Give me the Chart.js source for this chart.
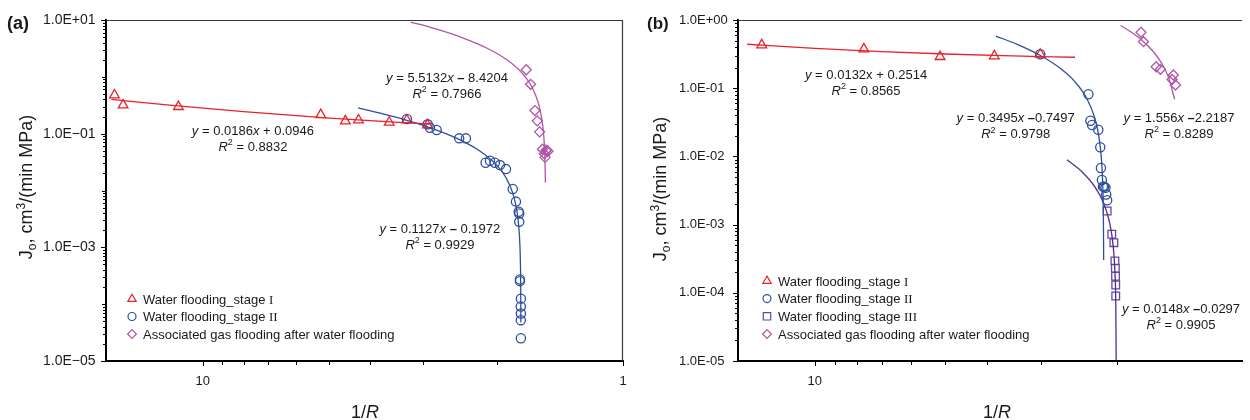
<!DOCTYPE html>
<html><head><meta charset="utf-8">
<script src="https://cdn.jsdelivr.net/npm/chart.js@4.4.1/dist/chart.umd.min.js"></script>
<style>
html,body{margin:0;padding:0;background:#fff;overflow:hidden;}
#wrap{position:relative;width:1250px;height:420px;}
canvas{position:absolute;top:0;}
#ca{left:0;}
#cb{left:625px;}
</style></head><body>
<div id="wrap"><canvas id="ca" width="640" height="420"></canvas><canvas id="cb" width="625" height="420"></canvas></div>
<script>
// ---------- Panel (a) data ----------
const aStage1X = [16.23, 15.48, 11.43, 5.24, 4.58, 4.26, 3.60, 3.27, 2.92];
const aStage1Y = [0.478, 0.319, 0.298, 0.215, 0.167, 0.173, 0.158, 0.173, 0.142];
const aStage2X = [3.268, 2.917, 2.880, 2.777, 2.454, 2.365, 2.123, 2.073, 2.018, 1.963, 1.899, 1.830, 1.798, 1.771, 1.766, 1.766, 1.759, 1.759, 1.750, 1.751, 1.750, 1.751, 1.750];
const aStage2Y = [0.181, 0.146, 0.127, 0.1157, 0.0827, 0.0827, 0.0308, 0.0333, 0.0308, 0.0280, 0.0238, 0.0106, 0.00638, 0.00422, 0.00395, 0.00281, 0.000272, 0.000254, 0.000125, 9.12e-5, 6.86e-5, 5.23e-5, 2.52e-5];
const aGasX = [1.699, 1.659, 1.620, 1.600, 1.579, 1.555, 1.525, 1.509, 1.533, 1.539, 1.519];
const aGasY = [1.334, 0.738, 0.255, 0.168, 0.1076, 0.0531, 0.0508, 0.0490, 0.0383, 0.0443, 0.0514];
// fitted curves (a)
const aFit1X = [16.5, 12, 8, 5, 3.5, 2.87];
const aFit1Y = [0.4015, 0.3178, 0.2434, 0.1876, 0.1597, 0.1480];
const aFit2X = [4.27, 3.8, 3.3, 2.9, 2.5, 2.2, 2.0, 1.9, 1.83, 1.79, 1.77, 1.76, 1.755, 1.752, 1.7505, 1.7502];
const aFit2Y = [0.2840, 0.2311, 0.1747, 0.1296, 0.0846, 0.0507, 0.0282, 0.0169, 0.00904, 0.00453, 0.00228, 0.00115, 0.000589, 0.000251, 8.1e-5, 4.75e-5];
const aFit3X = [3.2, 2.8, 2.4, 2.1, 1.9, 1.75, 1.65, 1.59, 1.56, 1.545, 1.535, 1.5298];
const aFit3Y = [9.22, 7.017, 4.811, 3.157, 2.054, 1.227, 0.677, 0.3456, 0.1802, 0.0975, 0.0424, 0.01375];

// ---------- Panel (b) data ----------
const bStage1X = [13.27, 7.70, 5.13, 3.843, 3.008];
const bStage1Y = [0.430, 0.3756, 0.2897, 0.2966, 0.314];
const bStage2X = [3.008, 2.327, 2.303, 2.282, 2.208, 2.185, 2.177, 2.166, 2.154, 2.140, 2.125, 2.117, 2.106];
const bStage2Y = [0.315, 0.0817, 0.0334, 0.0289, 0.0246, 0.0136, 0.00676, 0.00451, 0.00360, 0.00360, 0.00348, 0.00276, 0.00227];
const bStage3X = [2.106, 2.055, 2.032, 2.021, 2.016, 2.014, 2.012, 2.012];
const bStage3Y = [0.001583, 0.000723, 0.000543, 0.000294, 0.000229, 0.000175, 0.000130, 8.98e-5];
const bGasX = [1.758, 1.735, 1.622, 1.586, 1.480, 1.490, 1.463];
const bGasY = [0.660, 0.481, 0.2066, 0.1893, 0.1562, 0.1341, 0.1114];
// fitted curves (b)
const bFit1X = [14.34, 10, 7, 5, 3.5, 2.5];
const bFit1Y = [0.4407, 0.3834, 0.3438, 0.3174, 0.2976, 0.2844];
const bFit2X = [3.81, 3.4, 3.0, 2.7, 2.5, 2.35, 2.25, 2.2, 2.17, 2.155, 2.149, 2.1465, 2.1459];
const bFit2Y = [0.5819, 0.4386, 0.2988, 0.1940, 0.1241, 0.0716, 0.0367, 0.0192, 0.00872, 0.00347, 0.00138, 0.000502, 0.000302];
const bFit3X = [2.608, 2.4, 2.25, 2.15, 2.08, 2.04, 2.02, 2.012, 2.0077, 2.00745];
const bFit3Y = [0.008898, 0.00582, 0.0036, 0.00212, 0.001084, 0.000492, 0.000196, 7.76e-5, 1.4e-5, 1.03e-5];
const bFit4X = [1.96, 1.85, 1.75, 1.65, 1.58, 1.52, 1.47];
const bFit4Y = [0.8311, 0.6599, 0.5043, 0.3487, 0.2398, 0.1465, 0.0686];

// tick label exponents
const aYLabelExp = [1, -1, -3, -5];
const bYLabelExp = [0, -1, -2, -3, -4, -5];
const aXLabels = [1, 10];
const bXLabels = [10];

// ---------- styles ----------
const FONT = '"Liberation Sans", Arial, Helvetica, sans-serif';
const SERIF = '"Liberation Serif", "Times New Roman", serif';
const TXT = '#1a1a1a';
const RED = '#e8212b', BLUE = '#2d4e9f', MAG = '#b054a6', PURP = '#6a44a3', PURPL = '#4f2f8e';

function pts(xs, ys) { return xs.map((x, i) => ({x: x, y: ys[i]})); }
function fitDS(xs, ys, color) {
  return {data: pts(xs, ys), showLine: true, borderColor: color, borderWidth: 1.3,
    pointRadius: 0, pointHoverRadius: 0, cubicInterpolationMode: 'monotone', fill: false};
}
function markDS(xs, ys, color, style, r) {
  return {data: pts(xs, ys), showLine: false, pointStyle: style, pointRadius: r, pointHoverRadius: r,
    pointBorderColor: color, pointBackgroundColor: 'rgba(0,0,0,0)', pointBorderWidth: 1.3,
    borderColor: color, backgroundColor: 'rgba(0,0,0,0)'};
}

function segFont(s, size) {
  if (s === 'i') return 'italic ' + size + 'px ' + FONT;
  if (s === 'b') return 'bold ' + size + 'px ' + FONT;
  if (s === 's' || s === 'sub') return Math.round(size * 0.66) + 'px ' + FONT;
  if (s === 'r') return size + 'px ' + SERIF;
  return size + 'px ' + FONT;
}
function richWidth(ctx, segs, size) {
  let w = 0;
  for (const sg of segs) { ctx.font = segFont(sg[1] || '', size); w += ctx.measureText(sg[0]).width; }
  return w;
}
function drawRich(ctx, segs, x, y, size, align) {
  const w = richWidth(ctx, segs, size);
  let cx = align === 'center' ? x - w / 2 : x;
  ctx.textAlign = 'left'; ctx.textBaseline = 'alphabetic';
  for (const sg of segs) {
    const s = sg[1] || '';
    ctx.font = segFont(s, size);
    let dy = 0;
    if (s === 's') dy = -size * 0.4;
    if (s === 'sub') dy = size * 0.22;
    ctx.fillText(sg[0], cx, y + dy);
    cx += ctx.measureText(sg[0]).width;
  }
}
function drawMarker(ctx, style, x, y, r, color) {
  ctx.save(); ctx.strokeStyle = color; ctx.lineWidth = 1.2; ctx.beginPath();
  if (style === 'triangle') {
    ctx.moveTo(x, y - r); ctx.lineTo(x + r * 0.866, y + r / 2); ctx.lineTo(x - r * 0.866, y + r / 2); ctx.closePath();
  } else if (style === 'circle') {
    ctx.arc(x, y, r, 0, Math.PI * 2);
  } else if (style === 'rect') {
    ctx.rect(x - r, y - r, 2 * r, 2 * r);
  } else {
    ctx.moveTo(x, y - r); ctx.lineTo(x + r, y); ctx.lineTo(x, y + r); ctx.lineTo(x - r, y); ctx.closePath();
  }
  ctx.stroke(); ctx.restore();
}

const decor = {
  id: 'decor',
  afterDraw(chart) {
    const o = chart.options.plugins.decor;
    const ctx = chart.ctx, ca = chart.chartArea, xs = chart.scales.x, ys = chart.scales.y;
    ctx.save();
    // frame top / right
    ctx.strokeStyle = '#3a3a3a'; ctx.lineWidth = 1.2;
    ctx.beginPath(); ctx.moveTo(ca.left, ca.top + 0.5); ctx.lineTo(ca.right, ca.top + 0.5); ctx.stroke();
    if (o.rightBorder) { ctx.beginPath(); ctx.moveTo(ca.right - 0.5, ca.top); ctx.lineTo(ca.right - 0.5, ca.bottom); ctx.stroke(); }
    // ticks
    ctx.strokeStyle = '#000'; ctx.lineWidth = 1;
    for (let e = o.yMinExp; e <= o.yMaxExp; e++) {
      for (let s = 1; s <= 9; s++) {
        if (e === o.yMaxExp && s > 1) break;
        const v = s * Math.pow(10, e);
        const py = Math.round(ys.getPixelForValue(v)) + 0.5;
        const len = s === 1 ? (o.yLabelExp.includes(e) ? 5 : 4) : 3;
        ctx.beginPath(); ctx.moveTo(ca.left - len, py); ctx.lineTo(ca.left, py); ctx.stroke();
      }
    }
    for (let s = 1; s <= 10; s++) {
      const px = Math.round(xs.getPixelForValue(s)) + 0.5;
      if (px < ca.left - 1 || px > ca.right + 1) continue;
      const len = (s === 1 || s === 10) ? 5 : 4;
      ctx.beginPath(); ctx.moveTo(px, ca.bottom); ctx.lineTo(px, ca.bottom + len); ctx.stroke();
    }
    // annotations
    ctx.fillStyle = TXT;
    for (const an of o.notes) {
      const px = xs.getPixelForValue(an.x), py = ys.getPixelForValue(an.y);
      an.lines.forEach((ln, i) => drawRich(ctx, ln, px, py + 4.5 + i * 16, 13, 'center'));
    }
    // legend
    const lg = o.legend;
    lg.items.forEach((it, i) => {
      const cy = ca.bottom - lg.bottomGap - (lg.items.length - 1 - i) * lg.rowH;
      drawMarker(ctx, it.style, ca.left + lg.markerDx, cy, it.r, it.color);
      ctx.fillStyle = TXT;
      drawRich(ctx, it.text, ca.left + lg.textDx, cy + 4.6, 13, 'left');
    });
    // axis titles
    ctx.fillStyle = TXT;
    drawRich(ctx, [['1/'], ['R', 'i']], o.xTitleX, 418, 18, 'center');
    ctx.save();
    ctx.translate(o.yTitleX, o.yTitleY); ctx.rotate(-Math.PI / 2);
    drawRich(ctx, [['J'], ['o', 'sub'], [', cm'], ['3', 's'], ['/(min MPa)']], 0, 0, 18, 'center');
    ctx.restore();
    // panel label
    ctx.font = 'bold ' + o.panelSize + 'px ' + FONT; ctx.textAlign = 'left'; ctx.textBaseline = 'alphabetic';
    ctx.fillText(o.panel, o.panelX, 29);
    ctx.restore();
  }
};

function expLabel(e, minus) {
  return '1.0E' + (e >= 0 ? '+' : minus) + String(Math.abs(e)).padStart(2, '0');
}
function isDecade(v) { const l = Math.log10(v); const e = Math.round(l); return Math.abs(l - e) < 1e-6 ? e : null; }

function makeChart(id, p) {
  return new Chart(document.getElementById(id), {
    type: 'scatter',
    data: {datasets: p.datasets},
    options: {
      responsive: false, animation: false, events: [], devicePixelRatio: 1,
      layout: {padding: p.padding},
      plugins: {legend: {display: false}, tooltip: {enabled: false}, decor: p.decor},
      scales: {
        x: {
          type: 'logarithmic', reverse: true, min: p.xMin, max: p.xMax,
          afterFit(s) { s.height = 59; },
          grid: {display: true, drawOnChartArea: false, drawTicks: true, tickLength: 5, color: 'rgba(0,0,0,0)', tickColor: 'rgba(0,0,0,0)'},
          border: {display: true, color: '#000', width: 2},
          ticks: {autoSkip: false, maxRotation: 0, padding: 8, color: TXT, font: {family: FONT, size: 13},
            callback(v) { const e = isDecade(v); return (e !== null && p.xLabels.includes(Math.pow(10, e))) ? String(Math.round(Math.pow(10, e))) : ''; }}
        },
        y: {
          type: 'logarithmic', min: p.yMin, max: p.yMax,
          afterFit(s) { s.width = p.yWidth; },
          grid: {display: true, drawOnChartArea: false, drawTicks: true, tickLength: 5, color: 'rgba(0,0,0,0)', tickColor: 'rgba(0,0,0,0)'},
          border: {display: true, color: '#000', width: 2},
          ticks: {autoSkip: false, crossAlign: 'far', padding: 6, color: TXT, font: {family: FONT, size: p.yFont},
            callback(v) { const e = isDecade(v); return (e !== null && p.yLabelExp.includes(e)) ? expLabel(e, p.minus) : ''; }}
        }
      }
    },
    plugins: [decor]
  });
}

const eqMinus = ['\u2013', 'b'];

makeChart('ca', {
  padding: {left: 43, right: 17, top: 20, bottom: 0}, yWidth: 63,
  xMin: 1, xMax: 17, yMin: 1e-5, yMax: 10, yFont: 14, minus: '\u2212',
  yLabelExp: aYLabelExp, xLabels: aXLabels,
  datasets: [
    fitDS(aFit1X, aFit1Y, RED), fitDS(aFit2X, aFit2Y, BLUE), fitDS(aFit3X, aFit3Y, MAG),
    markDS(aStage1X, aStage1Y, RED, 'triangle', 5.6),
    markDS(aStage2X, aStage2Y, BLUE, 'circle', 4.6),
    markDS(aGasX, aGasY, MAG, 'rectRot', 5)
  ],
  decor: {
    rightBorder: true, yMinExp: -5, yMaxExp: 1, yLabelExp: aYLabelExp,
    xTitleX: 365, yTitleX: 32, yTitleY: 187, panel: '(a)', panelX: 7, panelSize: 18,
    notes: [
      {x: 7.60, y: 0.1157, lines: [[['y', 'i'], [' = 0.0186'], ['x', 'i'], [' + 0.0946']], [['R', 'i'], ['2', 's'], [' = 0.8832']]]},
      {x: 2.624, y: 0.992, lines: [[['y', 'i'], [' = 5.5132'], ['x', 'i'], [' '], eqMinus, [' 8.4204']], [['R', 'i'], ['2', 's'], [' = 0.7966']]]},
      {x: 2.728, y: 0.00218, lines: [[['y', 'i'], [' = 0.1127'], ['x', 'i'], [' '], eqMinus, [' 0.1972']], [['R', 'i'], ['2', 's'], [' = 0.9929']]]}
    ],
    legend: {markerDx: 26, textDx: 37, rowH: 17.5, bottomGap: 27, items: [
      {style: 'triangle', r: 4.8, color: RED, text: [['Water flooding_stage '], ['I', 'r']]},
      {style: 'circle', r: 4, color: BLUE, text: [['Water flooding_stage '], ['II', 'r']]},
      {style: 'diamond', r: 4.4, color: MAG, text: [['Associated gas flooding after water flooding']]}
    ]}
  }
});

makeChart('cb', {
  padding: {left: 54, right: 0, top: 20, bottom: 0}, yWidth: 59,
  xMin: 1.0266, xMax: 15.06, yMin: 1e-5, yMax: 1, yFont: 13, minus: '-',
  yLabelExp: bYLabelExp, xLabels: bXLabels,
  datasets: [
    fitDS(bFit1X, bFit1Y, RED), fitDS(bFit2X, bFit2Y, BLUE), fitDS(bFit3X, bFit3Y, PURPL), fitDS(bFit4X, bFit4Y, MAG),
    markDS(bStage1X, bStage1Y, RED, 'triangle', 5.6),
    markDS(bStage2X, bStage2Y, BLUE, 'circle', 4.6),
    markDS(bStage3X, bStage3Y, PURP, 'rect', 5.4),
    markDS(bGasX, bGasY, MAG, 'rectRot', 5)
  ],
  decor: {
    rightBorder: false, yMinExp: -5, yMaxExp: 0, yLabelExp: bYLabelExp,
    xTitleX: 372, yTitleX: 41, yTitleY: 189, panel: '(b)', panelX: 22, panelSize: 17,
    notes: [
      {x: 7.61, y: 0.1615, lines: [[['y', 'i'], [' = 0.0132x + 0.2514']], [['R', 'i'], ['2', 's'], [' = 0.8565']]]},
      {x: 3.429, y: 0.0366, lines: [[['y', 'i'], [' = 0.3495'], ['x', 'i'], [' '], eqMinus, ['0.7497']], [['R', 'i'], ['2', 's'], [' = 0.9798']]]},
      {x: 1.436, y: 0.0378, lines: [[['y', 'i'], [' = 1.556'], ['x', 'i'], [' '], eqMinus, ['2.2187']], [['R', 'i'], ['2', 's'], [' = 0.8289']]]},
      {x: 1.421, y: 5.98e-5, lines: [[['y', 'i'], [' = 0.0148'], ['x', 'i'], [' '], eqMinus, ['0.0297']], [['R', 'i'], ['2', 's'], [' = 0.9905']]]}
    ],
    legend: {markerDx: 29, textDx: 40, rowH: 17.7, bottomGap: 27, items: [
      {style: 'triangle', r: 4.8, color: RED, text: [['Water flooding_stage '], ['I', 'r']]},
      {style: 'circle', r: 4, color: BLUE, text: [['Water flooding_stage '], ['II', 'r']]},
      {style: 'rect', r: 3.7, color: PURP, text: [['Water flooding_stage '], ['III', 'r']]},
      {style: 'diamond', r: 4.4, color: MAG, text: [['Associated gas flooding after water flooding']]}
    ]}
  }
});
</script>
</body></html>
